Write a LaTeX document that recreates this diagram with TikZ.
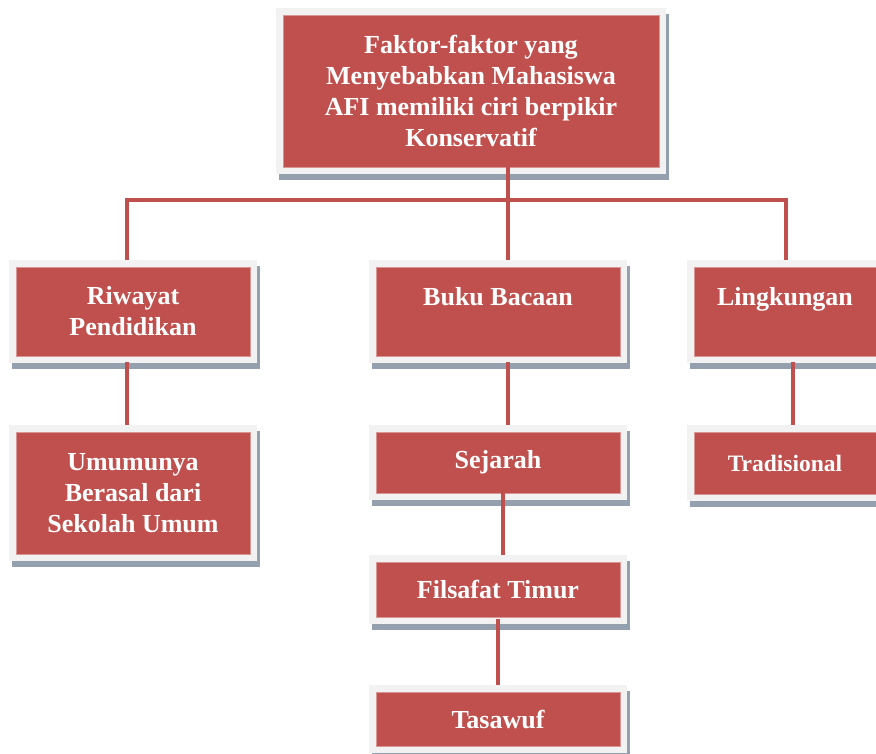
\documentclass[tikz,border=0pt]{standalone}
\usepackage{fontspec}
\setmainfont{Liberation Serif}
\usepackage{tikz}
\usetikzlibrary{positioning}
\definecolor{fkRed}{HTML}{C0504D}
\definecolor{fkEdge}{HTML}{D99694}
\definecolor{fkFrame}{HTML}{F2F2F2}
\definecolor{fkShadow}{HTML}{95A0AF}

\begin{document}
\begin{tikzpicture}[
  x=1pt,y=-1pt,
  node distance=76pt,
  factor/.style={fill=fkRed,draw=fkEdge,line width=0.8pt,
    preaction={draw=fkShadow,fill=fkShadow,line width=14pt,
      transform canvas={shift={(3pt,-6pt)}}},
    preaction={draw=fkFrame,line width=14pt},
    text=white,font=\fontsize{26}{31}\selectfont\bfseries,
    align=center,inner sep=0pt,outer sep=0pt,
    minimum width=244pt},
  link/.style={draw=fkRed,line width=4pt}
]
\useasboundingbox (0,0) rectangle (876,753);

\node[factor,minimum width=376pt,minimum height=152pt] (top) at (471,91)
  {Faktor-faktor yang\\Menyebabkan Mahasiswa\\AFI memiliki ciri berpikir\\Konservatif};

\node[factor,minimum width=234pt,minimum height=89pt] (riwayat) at (133,311.5) {Riwayat\\Pendidikan};
\node[factor,minimum height=89pt] (buku) at (498,311.5) {Buku Bacaan\\\mbox{}};
\node[factor,minimum width=182pt,minimum height=89pt] (lingkungan) at (785,311.5) {Lingkungan\\\mbox{}};

\node[factor,minimum width=234pt,minimum height=122pt,below=of riwayat] (umum)
  {Umumunya\\Berasal dari\\Sekolah Umum};
\node[factor,minimum height=61pt,below=of buku] (sejarah) {Sejarah};
\node[factor,minimum height=55pt,below=69pt of sejarah] (filsafat) {Filsafat Timur};
\node[factor,minimum height=54pt,below=75pt of filsafat] (tasawuf) {Tasawuf};
\node[factor,minimum width=182pt,minimum height=62pt,below=of lingkungan,
  font=\fontsize{23.5}{28}\selectfont\bfseries] (tradisional) {Tradisional};

% connectors
\coordinate (bus) at ([xshift=37pt,yshift=-33pt]top.south);
\draw[link] ([xshift=37pt]top.south) -- (bus);
\draw[link,shorten <=7pt,shorten >=7pt] ([xshift=-6pt]riwayat.north) |- (bus) -| ([xshift=1pt]lingkungan.north);
\draw[link,shorten <=7pt] ([xshift=10pt]buku.north) -- (bus);

\draw[link,shorten <=6pt,shorten >=7pt] ([xshift=-6pt]riwayat.south) -- ([xshift=-6pt]umum.north);
\draw[link,shorten <=6pt,shorten >=7pt] ([xshift=10pt]buku.south) -- ([xshift=10pt]sejarah.north);
\draw[link,shorten >=7pt] ([xshift=5pt]sejarah.south) -- ([xshift=5pt]filsafat.north);
\draw[link,shorten <=2pt,shorten >=7pt] (filsafat.south) -- (tasawuf.north);
\draw[link,shorten <=6pt,shorten >=7pt] ([xshift=8pt]lingkungan.south) -- ([xshift=8pt]tradisional.north);
\end{tikzpicture}
\end{document}
